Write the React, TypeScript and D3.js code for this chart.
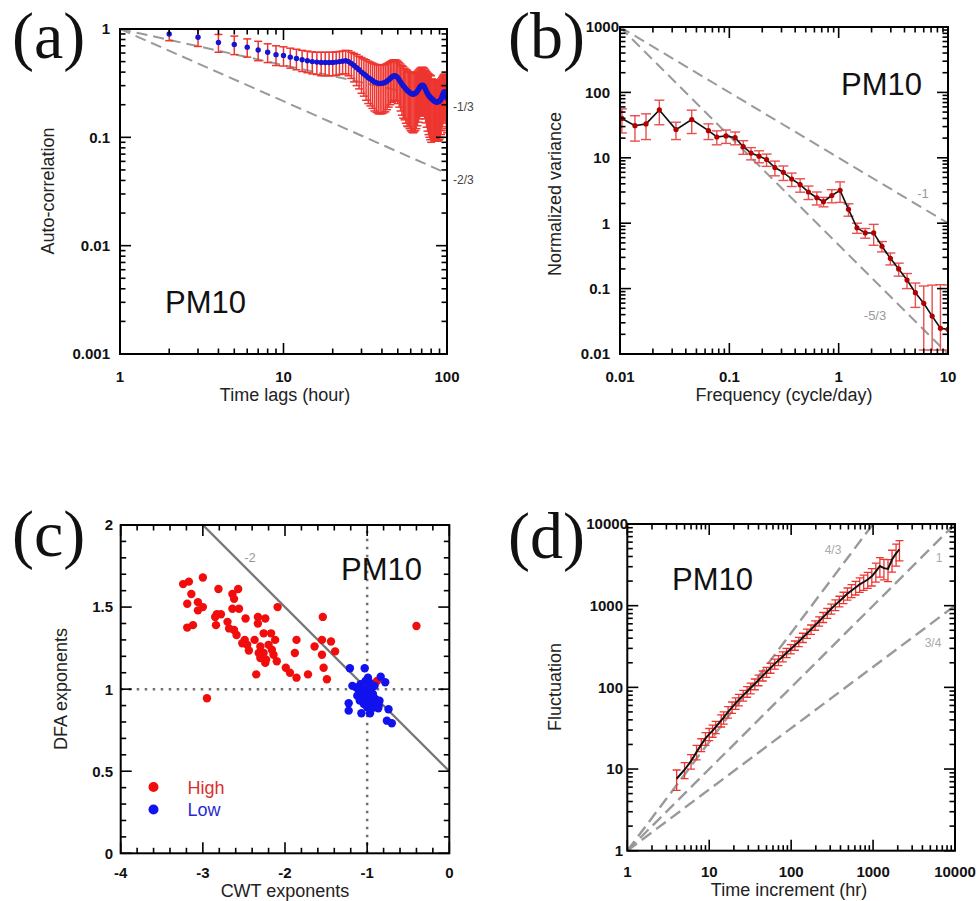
import React from "react";
import * as d3 from "d3";

const SANS = "'Liberation Sans', Arial, Helvetica, sans-serif";
const SERIF = "'Liberation Serif', 'Times New Roman', Times, serif";

// ---------------- (a) Auto-correlation ----------------
const acfLag = [2,3,4,5,6,7,8,9,10,11,12,13,14,15,16,17,18,19,20,21,22,23,24,25,26,27,28,29,30,31,32,33,34,35,36,37,38,39,40,41,42,43,44,45,46,47,48,49,50,51,52,53,54,55,56,57,58,59,60,61,62,63,64,65,66,67,68,69,70,71,72,73,74,75,76,77,78,79,80,81,82,83,84,85,86,87,88,89,90,91,92,93,94,95,96,97,98,99,100];
const acfMean = [0.90,0.84,0.75,0.72,0.68,0.64,0.61,0.58,0.57,
  0.55,0.535,0.52,0.51,0.50,0.495,0.49,0.49,0.49,0.49,
  0.495,0.50,0.505,0.51,0.50,0.48,0.46,0.44,0.42,0.40,
  0.385,0.37,0.355,0.345,0.335,0.325,0.32,0.315,0.315,0.315,
  0.318,0.322,0.33,0.34,0.35,0.36,0.368,0.37,0.365,0.355,
  0.34,0.325,0.31,0.30,0.29,0.28,0.272,0.265,0.26,0.255,
  0.252,0.25,0.252,0.255,0.26,0.268,0.278,0.288,0.297,0.302,
  0.303,0.298,0.288,0.276,0.264,0.254,0.246,0.24,0.235,0.23,
  0.226,0.222,0.218,0.215,0.213,0.212,0.212,0.213,0.214,0.216,
  0.22,0.226,0.235,0.245,0.255,0.262,0.263,0.255,0.24,0.23];
const acfErr = [0.12,0.15,0.14,0.14,0.13,0.13,0.12,0.12,0.115,
  0.115,0.115,0.115,0.115,0.115,0.115,0.12,0.12,0.12,0.12,
  0.12,0.12,0.12,0.125,0.13,0.13,0.135,0.14,0.14,0.145,
  0.145,0.15,0.15,0.15,0.15,0.15,0.15,0.15,0.15,0.15,
  0.15,0.15,0.15,0.15,0.15,0.15,0.15,0.15,0.15,0.15,
  0.15,0.15,0.15,0.15,0.145,0.145,0.145,0.14,0.14,0.14,
  0.14,0.14,0.14,0.14,0.14,0.14,0.14,0.14,0.14,0.14,
  0.14,0.14,0.14,0.14,0.14,0.14,0.14,0.14,0.14,0.14,
  0.12,0.12,0.12,0.12,0.12,0.12,0.12,0.12,0.12,0.12,
  0.12,0.12,0.12,0.12,0.12,0.12,0.12,0.12,0.12,0.12];
const acfSlopes = [-1/3, -2/3];
const acfSlopeLabels = ["-1/3", "-2/3"];
const acfXTickLabels = ["1", "10", "100"];
const acfYTickLabels = ["0.001", "0.01", "0.1", "1"];

// ---------------- (b) Spectrum ----------------
const specFreq = [0.0104,0.0137,0.0173,0.0229,0.0325,0.0453,0.0644,0.0768,0.0932,0.113,0.134,0.158,0.187,0.219,0.261,0.312,0.372,0.444,0.529,0.631,0.726,0.865,1.03,1.23,1.47,1.75,2.09,2.49,2.97,3.54,4.22,5.03,6.0,7.16,8.53,10.0];
const specVar = [40,31,33,54,27,38.5,26,20.8,21.6,20.3,14.8,11.8,10.6,9.4,7.1,6.0,4.74,3.88,3.0,2.45,2.13,2.65,3.18,1.63,0.85,0.71,0.71,0.444,0.29,0.2,0.135,0.0866,0.0596,0.038,0.0247,0.0238];
const specErr = [16,13,14,22,8,15,7,5,5,4.5,3.5,2.5,2.2,2,1.8,1.5,1.1,0.9,0.7,0.55,0.35,0.6,1.1,0.35,0.15,0.12,0.25,0.08,0.06,0.045,0.035,0.035,0.05,0.075,0.09,0.09];
const specSlopes = [-1, -5/3];
const specSlopeLabels = ["-1", "-5/3"];
const specXTickLabels = ["0.01", "0.1", "1", "10"];
const specYTickLabels = ["0.01", "0.1", "1", "10", "100", "1000"];

// ---------------- (c) CWT vs DFA ----------------
const highCWT = [-3.24,-3.17,-3.00,-3.14,-2.81,-2.57,-2.64,-2.62,-3.19,-3.06,-3.00,-3.06,-2.64,-2.56,-2.83,-2.78,-2.85,-2.48,-2.33,-2.24,-2.09,-2.33,-2.70,-3.12,-3.19,-2.84,-2.68,-2.62,-2.59,-2.26,-2.17,-2.12,-2.49,-2.37,-2.52,-2.46,-2.30,-2.20,-2.16,-2.44,-2.32,-2.26,-2.14,-2.30,-2.23,-2.10,-2.24,-1.86,-1.88,-1.99,-1.94,-1.86,-2.35,-1.72,-2.95,-0.40,-1.55,-1.44,-1.64,-1.55,-1.39,-1.53,-1.49,-0.88,-1.54];
const highDFA = [1.64,1.655,1.68,1.58,1.61,1.61,1.58,1.55,1.52,1.53,1.50,1.48,1.49,1.49,1.456,1.456,1.44,1.43,1.44,1.43,1.50,1.40,1.41,1.39,1.375,1.39,1.37,1.36,1.33,1.34,1.34,1.30,1.30,1.30,1.28,1.27,1.26,1.27,1.24,1.235,1.22,1.22,1.21,1.19,1.18,1.17,1.16,1.30,1.22,1.13,1.10,1.07,1.09,1.09,0.945,1.385,1.30,1.29,1.26,1.21,1.23,1.13,1.06,1.05,1.44];
const lowCWT = [-1.21,-1.03,-0.835,-0.78,-1.18,-1.225,-1.225,-1.07,-0.965,-0.74,-0.76,-0.70,-0.865,-0.905,
  -1.02,-1.08,-0.97,-1.05,-1.0,-0.95,-1.1,-1.03,-0.98,-1.06,-0.93,-1.12,-1.01,-0.96,-1.04,-0.9,-0.88,-0.92,-1.0,-0.97,-1.07,-0.94,-1.09,-0.99,-0.86,-1.13,-0.91,-1.0,-0.95,-0.85];
const lowDFA = [1.127,1.127,1.076,1.042,1.02,0.914,0.869,0.853,0.853,0.878,0.808,0.792,0.884,0.934,
  1.05,1.03,1.04,1.0,1.0,1.0,0.99,0.97,0.96,0.95,0.97,0.96,0.93,0.92,0.91,0.94,0.91,0.89,0.89,1.02,0.98,0.95,0.93,1.07,0.9,1.01,1.02,0.95,0.88,0.93];
const cwtXTickLabels = ["-4", "-3", "-2", "-1", "0"];
const cwtYTickLabels = ["0", "0.5", "1", "1.5", "2"];
const legendLabels = ["High", "Low"];

// ---------------- (d) DFA fluctuation ----------------
const dfaScale = [4,5,6,7,8,9,10,11,12,14,15,17,19,21,23,26,29,32,36,40,45,50,56,63,70,79,88,99,111,124,139,156,175,196,220,246,276,309,346,388,435,487,546,612,686,768,861,965,1081,1211,1357,1521,1704,1909,2100];
const dfaFluct = [7.6,9.8,12.5,16.2,19.9,23.7,26.8,29.5,32.7,39.4,42.7,50,57,64,70.8,80,89,98,110,123,139,154,173,194,214,239,265,295,327,363,407,457,513,575,646,724,813,916,1023,1135,1259,1406,1531,1667,1820,1950,2090,2290,2630,3055,2880,2820,3670,4365,4900];
const dfaRelErr = [0.28,0.22,0.2,0.2,0.18,0.18,0.17,0.17,0.17,0.17,
  0.17,0.16,0.16,0.16,0.16,0.15,0.15,0.15,0.15,0.15,
  0.14,0.14,0.14,0.14,0.14,0.14,0.13,0.13,0.13,0.13,
  0.13,0.13,0.13,0.13,0.13,0.14,0.14,0.14,0.15,0.15,
  0.16,0.17,0.18,0.19,0.2,0.21,0.22,0.24,0.26,0.27,
  0.28,0.3,0.3,0.3,0.28];
const dfaSlopes = [4/3, 1, 3/4];
const dfaSlopeLabels = ["4/3", "1", "3/4"];
const dfaTickLabels = ["1", "10", "100", "1000", "10000"];

type Tick = { v: number; major: boolean };

function logTicks(lo: number, hi: number): Tick[] {
  const out: Tick[] = [];
  const d0 = Math.floor(Math.log10(lo) + 1e-9);
  const d1 = Math.ceil(Math.log10(hi) - 1e-9);
  for (let d = d0; d <= d1; d++) {
    for (let k = 1; k <= 9; k++) {
      const v = k * Math.pow(10, d);
      if (v >= lo * 0.9999 && v <= hi * 1.0001) out.push({ v, major: k === 1 });
    }
  }
  return out;
}

function linTicks(lo: number, hi: number, step: number, majorStep: number): Tick[] {
  const out: Tick[] = [];
  const n = Math.round((hi - lo) / step);
  for (let i = 0; i <= n; i++) {
    const v = lo + i * step;
    const r = v / majorStep;
    out.push({ v, major: Math.abs(r - Math.round(r)) < 1e-6 });
  }
  return out;
}

function Axes({ x, y, xTicks, yTicks, major = 11, minor = 5.5 }: any) {
  const [x0, x1] = x.range();
  const [yb, yt] = y.range();
  return (
    <g stroke="#000" strokeWidth={1.6}>
      {xTicks.map((t: Tick, i: number) => {
        const px = x(t.v);
        const L = t.major ? major : minor;
        return (
          <g key={"x" + i}>
            <line x1={px} x2={px} y1={yb} y2={yb - L} />
            <line x1={px} x2={px} y1={yt} y2={yt + L} />
          </g>
        );
      })}
      {yTicks.map((t: Tick, i: number) => {
        const py = y(t.v);
        const L = t.major ? major : minor;
        return (
          <g key={"y" + i}>
            <line x1={x0} x2={x0 + L} y1={py} y2={py} />
            <line x1={x1} x2={x1 - L} y1={py} y2={py} />
          </g>
        );
      })}
      <rect x={x0} y={yt} width={x1 - x0} height={yb - yt} fill="none" strokeWidth={2} />
    </g>
  );
}

function ErrBar({ x, yHi, yLo, cap, color, w }: any) {
  return (
    <g stroke={color} strokeWidth={w}>
      <line x1={x} x2={x} y1={yHi} y2={yLo} />
      <line x1={x - cap} x2={x + cap} y1={yHi} y2={yHi} />
      <line x1={x - cap} x2={x + cap} y1={yLo} y2={yLo} />
    </g>
  );
}

function ClipRect({ id, x, y }: any) {
  const [x0, x1] = x.range();
  const [yb, yt] = y.range();
  return (
    <clipPath id={id}>
      <rect x={x0} y={yt} width={x1 - x0} height={yb - yt} />
    </clipPath>
  );
}

const tickFont = { fontFamily: SANS, fontSize: 15, fontWeight: 700 as any, fill: "#111" };
const titleFont = { fontFamily: SANS, fontSize: 18, fill: "#222" };

export default function App() {
  const xA = d3.scaleLog().domain([1, 100]).range([120, 447]);
  const yA = d3.scaleLog().domain([0.001, 1]).range([354, 29]);
  const xB = d3.scaleLog().domain([0.01, 10]).range([620, 948]);
  const yB = d3.scaleLog().domain([0.01, 1000]).range([354, 27]);
  const xC = d3.scaleLinear().domain([-4, 0]).range([120.7, 449.3]);
  const yC = d3.scaleLinear().domain([0, 2]).range([853.3, 525]);
  const xD = d3.scaleLog().domain([1, 10000]).range([627.3, 955]);
  const yD = d3.scaleLog().domain([1, 10000]).range([850.7, 524]);

  const lineA = d3.line<[number, number]>().x(d => xA(d[0])).y(d => yA(d[1]));
  const lineB = d3.line<[number, number]>().x(d => xB(d[0])).y(d => yB(d[1]));
  const lineD = d3.line<[number, number]>().x(d => xD(d[0])).y(d => yD(d[1]));
  const lineC = d3.line<[number, number]>().x(d => xC(d[0])).y(d => yC(d[1]));

  const red = "#ee3530";

  return (
    <svg width={977} height={901} style={{ position: "absolute", left: 0, top: 0, background: "#fff" }}>
      <defs>
        <ClipRect id="clipA" x={xA} y={yA} />
        <ClipRect id="clipB" x={xB} y={yB} />
        <ClipRect id="clipC" x={xC} y={yC} />
        <ClipRect id="clipD" x={xD} y={yD} />
      </defs>
      <rect x={0} y={0} width={977} height={901} fill="#fff" />

      {/* ================= (a) ================= */}
      <text x={12} y={58} fontFamily={SERIF} fontSize={66} fill="#111">(a)</text>
      <g clipPath="url(#clipA)">
        {acfSlopes.map((s, i) => (
          <path key={i} d={lineA([[1, 1], [100, Math.pow(100, s)]]) || ""} fill="none"
            stroke="#9a9a9a" strokeWidth={2} strokeDasharray="11,6" />
        ))}
        {acfLag.map((l, i) => (
          <ErrBar key={i} x={xA(l)} yHi={yA(acfMean[i] + acfErr[i])} yLo={yA(Math.max(acfMean[i] - acfErr[i], 0.0011))}
            cap={4} color={red} w={1.5} />
        ))}
        {acfLag.map((l, i) => (
          <circle key={i} cx={xA(l)} cy={yA(acfMean[i])} r={2.7} fill="#1414d4" />
        ))}
      </g>
      <Axes x={xA} y={yA} xTicks={logTicks(1, 100)} yTicks={logTicks(0.001, 1)} />
      {[1, 10, 100].map((v, i) => (
        <text key={i} x={xA(v)} y={382} textAnchor="middle" {...tickFont}>{acfXTickLabels[i]}</text>
      ))}
      {[0.001, 0.01, 0.1, 1].map((v, i) => (
        <text key={i} x={110} y={yA(v)} dy="0.36em" textAnchor="end" {...tickFont}>{acfYTickLabels[i]}</text>
      ))}
      {acfSlopes.map((s, i) => (
        <text key={i} x={453} y={yA(Math.pow(100, s)) + 6} dy="0.35em" fontFamily={SANS} fontSize={12} fill="#444">{acfSlopeLabels[i]}</text>
      ))}
      <text x={165} y={313} fontFamily={SANS} fontSize={31} fill="#111">PM10</text>
      <text x={285} y={401} textAnchor="middle" {...titleFont}>Time lags (hour)</text>
      <text transform="translate(54,191) rotate(-90)" textAnchor="middle" {...titleFont}>Auto-correlation</text>

      {/* ================= (b) ================= */}
      <text x={508} y={58} fontFamily={SERIF} fontSize={66} fill="#111">(b)</text>
      <g clipPath="url(#clipB)">
        {specSlopes.map((s, i) => (
          <path key={i} d={lineB([[0.01, 1000], [10, 1000 * Math.pow(1000, s)]]) || ""} fill="none"
            stroke="#9a9a9a" strokeWidth={2} strokeDasharray="11,6" />
        ))}
        {specFreq.map((f, i) => (
          <ErrBar key={i} x={xB(f)} yHi={yB(specVar[i] + specErr[i])} yLo={yB(Math.max(specVar[i] - specErr[i], 0.0115))}
            cap={5} color="#e85050" w={1.4} />
        ))}
        <path d={lineB(specFreq.map((f, i) => [f, specVar[i]] as [number, number])) || ""} fill="none" stroke="#111" strokeWidth={1.6} />
        {specFreq.map((f, i) => (
          <circle key={i} cx={xB(f)} cy={yB(specVar[i])} r={2.6} fill="#b00000" />
        ))}
      </g>
      <Axes x={xB} y={yB} xTicks={logTicks(0.01, 10)} yTicks={logTicks(0.01, 1000)} />
      {[0.01, 0.1, 1, 10].map((v, i) => (
        <text key={i} x={xB(v)} y={382} textAnchor="middle" {...tickFont}>{specXTickLabels[i]}</text>
      ))}
      {[0.01, 0.1, 1, 10, 100, 1000].map((v, i) => (
        <text key={i} x={v === 1000 ? 619 : 610} y={yB(v)} dy="0.36em" textAnchor="end" {...tickFont}>{specYTickLabels[i]}</text>
      ))}
      <text x={923} y={193} dy="0.35em" textAnchor="middle" fontFamily={SANS} fontSize={13} fill="#999">{specSlopeLabels[0]}</text>
      <text x={875} y={315} dy="0.35em" textAnchor="middle" fontFamily={SANS} fontSize={13} fill="#999">{specSlopeLabels[1]}</text>
      <text x={922} y={95} textAnchor="end" fontFamily={SANS} fontSize={31} fill="#111">PM10</text>
      <text x={784} y={401} textAnchor="middle" {...titleFont}>Frequency (cycle/day)</text>
      <text transform="translate(561,194) rotate(-90)" textAnchor="middle" {...titleFont}>Normalized variance</text>

      {/* ================= (c) ================= */}
      <text x={12} y={556} fontFamily={SERIF} fontSize={66} fill="#111">(c)</text>
      <g clipPath="url(#clipC)">
        <line x1={xC(-4)} x2={xC(0)} y1={yC(1)} y2={yC(1)} stroke="#707070" strokeWidth={2.5} strokeDasharray="2.5,5.5" />
        <line x1={xC(-1)} x2={xC(-1)} y1={yC(0)} y2={yC(2)} stroke="#707070" strokeWidth={2.5} strokeDasharray="2.5,5.5" />
        <path d={lineC([[-3, 2], [0, 0.5]]) || ""} stroke="#777" strokeWidth={2.3} fill="none" />
        {highCWT.map((v, i) => (
          <circle key={"h" + i} cx={xC(v)} cy={yC(highDFA[i])} r={4.2} fill="#f20d0d" />
        ))}
        {lowCWT.map((v, i) => (
          <circle key={"l" + i} cx={xC(v)} cy={yC(lowDFA[i])} r={4.2} fill="#1212ee" />
        ))}
      </g>
      <Axes x={xC} y={yC} xTicks={linTicks(-4, 0, 0.2, 1)} yTicks={linTicks(0, 2, 0.1, 0.5)} />
      {[-4, -3, -2, -1, 0].map((v, i) => (
        <text key={i} x={xC(v)} y={878} textAnchor="middle" {...tickFont}>{cwtXTickLabels[i]}</text>
      ))}
      {[0, 0.5, 1, 1.5, 2].map((v, i) => (
        <text key={i} x={113} y={yC(v)} dy="0.36em" textAnchor="end" {...tickFont}>{cwtYTickLabels[i]}</text>
      ))}
      <text x={250} y={557} dy="0.35em" textAnchor="middle" fontFamily={SANS} fontSize={13} fill="#999">-2</text>
      <text x={422} y={580} textAnchor="end" fontFamily={SANS} fontSize={31} fill="#111">PM10</text>
      <circle cx={153.5} cy={787} r={5} fill="#f20d0d" />
      <text x={187.5} y={793.5} fontFamily={SANS} fontSize={18} fill="#d83030">{legendLabels[0]}</text>
      <circle cx={153.5} cy={809.5} r={5} fill="#1212ee" />
      <text x={187.5} y={816} fontFamily={SANS} fontSize={18} fill="#2a2ad0">{legendLabels[1]}</text>
      <text x={285} y={897} textAnchor="middle" {...titleFont}>CWT exponents</text>
      <text transform="translate(67,689) rotate(-90)" textAnchor="middle" {...titleFont}>DFA exponents</text>

      {/* ================= (d) ================= */}
      <text x={508} y={558} fontFamily={SERIF} fontSize={66} fill="#111">(d)</text>
      <g clipPath="url(#clipD)">
        {dfaSlopes.map((s, i) => (
          <path key={i} d={lineD([[1, 1], [Math.pow(10000, 1 / s), 10000]].map(p => p[0] > 10000 ? [10000, Math.pow(10000, s)] : p) as [number, number][]) || ""}
            fill="none" stroke="#9a9a9a" strokeWidth={2.4} strokeDasharray="12,6" />
        ))}
        {dfaScale.map((t, i) => (
          <ErrBar key={i} x={xD(t)} yHi={yD(dfaFluct[i] * (1 + dfaRelErr[i]))} yLo={yD(dfaFluct[i] * (1 - dfaRelErr[i]))}
            cap={4} color={red} w={1.3} />
        ))}
        <path d={lineD(dfaScale.map((t, i) => [t, dfaFluct[i]] as [number, number])) || ""} fill="none" stroke="#111" strokeWidth={2} />
      </g>
      <Axes x={xD} y={yD} xTicks={logTicks(1, 10000)} yTicks={logTicks(1, 10000)} />
      {[1, 10, 100, 1000, 10000].map((v, i) => (
        <text key={i} x={xD(v)} y={877} textAnchor="middle" {...tickFont}>{dfaTickLabels[i]}</text>
      ))}
      {[1, 10, 100, 1000, 10000].map((v, i) => (
        <text key={i} x={v === 10000 ? 628 : 623} y={yD(v)} dy="0.36em" textAnchor="end" {...tickFont}>{dfaTickLabels[i]}</text>
      ))}
      <text x={833} y={550} dy="0.35em" textAnchor="middle" fontFamily={SANS} fontSize={12} fill="#aaa">{dfaSlopeLabels[0]}</text>
      <text x={939} y={558} dy="0.35em" textAnchor="middle" fontFamily={SANS} fontSize={12} fill="#aaa">{dfaSlopeLabels[1]}</text>
      <text x={933} y={643} dy="0.35em" textAnchor="middle" fontFamily={SANS} fontSize={12} fill="#aaa">{dfaSlopeLabels[2]}</text>
      <text x={672} y={590} fontFamily={SANS} fontSize={31} fill="#111">PM10</text>
      <text x={789} y={896} textAnchor="middle" {...titleFont}>Time increment (hr)</text>
      <text transform="translate(561,687) rotate(-90)" textAnchor="middle" {...titleFont}>Fluctuation</text>
    </svg>
  );
}
